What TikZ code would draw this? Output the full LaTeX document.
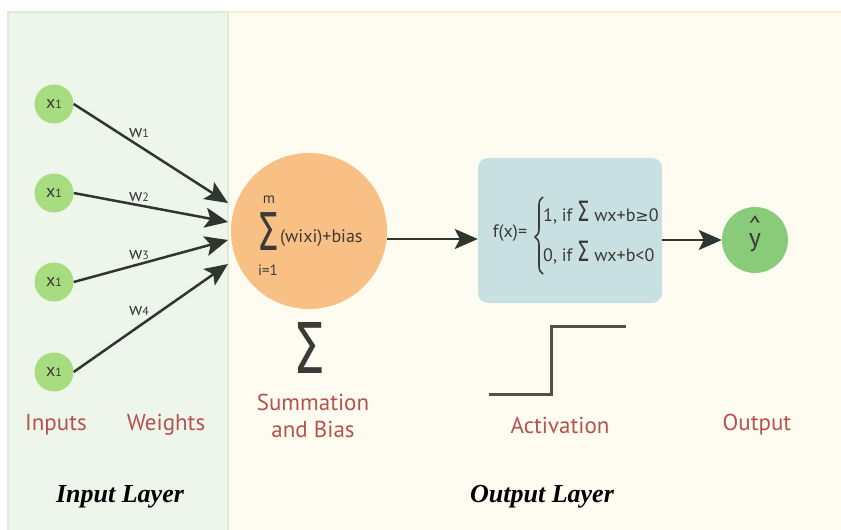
\documentclass[tikz,border=0pt]{standalone}
\usepackage{fontspec}
\setmainfont{PT Sans}
\newfontfamily\symfont{DejaVu Sans}
\newfontfamily\layerfont{Liberation Serif}
\usetikzlibrary{arrows.meta,decorations.pathreplacing}

\definecolor{inbg}{HTML}{EEF6EC}
\definecolor{inedge}{HTML}{DDEBD6}
\definecolor{outbg}{HTML}{FEFCF0}
\definecolor{outedge}{HTML}{FBEFCC}
\definecolor{ingreen}{HTML}{A8DC80}
\definecolor{outgreen}{HTML}{88CC7A}
\definecolor{sumorange}{HTML}{F8C085}
\definecolor{actblue}{HTML}{C8E0E2}
\definecolor{ink}{HTML}{2F3630}
\definecolor{txt}{HTML}{3A3A36}
\definecolor{cap}{HTML}{B5524E}
\definecolor{stepline}{HTML}{545048}

\tikzset{
  inp/.style={circle, fill=ingreen, minimum size=39pt, inner sep=0pt, text=txt,
    font=\fontsize{18}{18}\selectfont},
  wlab/.style={text=txt, font=\fontsize{18}{18}\selectfont, inner sep=0pt},
  conn/.style={draw=ink, line width=2.5pt,
    -{Stealth[length=23pt, width=20pt, inset=5pt]}},
  formula/.style={text=txt, inner sep=0pt, font=\fontsize{18}{18}\selectfont},
  caption/.style={text=cap, font=\fontsize{23}{27}\selectfont, align=center, inner sep=0pt},
  layer/.style={text=black, font=\layerfont\bfseries\itshape\fontsize{26}{26}\selectfont, inner sep=0pt},
}

\newcommand{\xone}{x{\fontsize{12}{12}\selectfont 1}}
\newcommand{\wsub}[1]{w{\fontsize{12}{12}\selectfont #1}}
\newcommand{\smallsig}{{\symfont\fontsize{28}{28}\selectfont\scalebox{0.7}[1]{Σ}}}
\newcommand{\hatwithy}{\ooalign{y\cr\hidewidth\raisebox{12pt}{\textasciicircum}\hidewidth\cr}}

\begin{document}
\begin{tikzpicture}[x=1pt, y=-1pt]
  \useasboundingbox (0,0) rectangle (841,530);
  \fill[white] (0,0) rectangle (841,530);

  % layer panels
  \filldraw[fill=outbg, draw=outedge, line width=2pt] (228,12) rectangle (845,534);
  \filldraw[fill=inbg, draw=inedge, line width=2pt] (8,12) rectangle (228,534);

  % inputs
  \node[inp] (x1) at (54,104) {\xone};
  \node[inp] (x2) at (54,193) {\xone};
  \node[inp] (x3) at (54,282) {\xone};
  \node[inp] (x4) at (54,372) {\xone};

  % summation unit
  \node[circle, fill=sumorange, minimum size=156pt, inner sep=0pt] (sum) at (309,231) {};
  \node[formula, font=\fontsize{15}{15}\selectfont] (m) at (269,200) {m};
  \node[text=txt, inner sep=0pt] (sig) at (268,232)
    {\symfont\fontsize{52}{52}\selectfont\scalebox{0.66}[1]{Σ}};
  \node[formula, font=\fontsize{15}{15}\selectfont] (lim) at (268,270) {i=1};
  \node[formula, anchor=west] (sumtxt) at (280,238) {(wixi)+bias};

  % arrow targets on the summation unit
  \coordinate (t1) at (228,203);
  \coordinate (t2) at (228,222);
  \coordinate (t3) at (228,240);
  \coordinate (t4) at (228,264);

  \draw[conn] (x1.east) -- (t1);
  \draw[conn] (x2.east) -- (t2);
  \draw[conn] (x3.east) -- (t3);
  \draw[conn] (x4.east) -- (t4);

  \node[wlab] (w1) at (139,133) {\wsub{1}};
  \node[wlab] (w2) at (139,197) {\wsub{2}};
  \node[wlab] (w3) at (139,255) {\wsub{3}};
  \node[wlab] (w4) at (139,311) {\wsub{4}};

  % activation box
  \node[fill=actblue, rounded corners=10pt, minimum width=184pt, minimum height=145pt,
        inner sep=0pt] (act) at (570,230.5) {};
  \node[formula] (fx) at (510,233) {f(x)=};
  \coordinate (bt) at (543,197);
  \coordinate (bb) at (543,274);
  \draw[txt, line width=1.6pt, decorate, decoration={brace, amplitude=8pt, aspect=0.48}] (bb) -- (bt);
  \node[formula, anchor=west] (c1) at (543,213) {1, if \smallsig{} wx+b{\symfont\fontsize{16}{16}\selectfont ≥}0};
  \node[formula, anchor=west] (c2) at (543,253) {0, if \smallsig{} wx+b<0};

  % output
  \node[circle, fill=outgreen, minimum size=66pt, inner sep=0pt, text=txt,
        font=\fontsize{26}{26}\selectfont] (yhat) at (755,240) {\hatwithy};

  \draw[conn] (sum.east |- 0,239) -- (act.west |- 0,239);
  \draw[conn] (act.east |- yhat.west) -- (yhat.west);

  % big sigma and step function
  \node[text=txt, inner sep=0pt] (bigsig) at (309,348)
    {\symfont\fontsize{70}{70}\selectfont\scalebox{0.72}[1]{Σ}};
  \draw[stepline, line width=3pt] (489,394) -- (551,394) -- (551,326) -- (626,326);

  % captions
  \node[caption] (cin) at (56,425) {Inputs};
  \node[caption] (cw) at (166,425) {Weights};
  \node[caption] (cs) at (313,416) {Summation\\and Bias};
  \node[caption] (ca) at (560,425) {Activation};
  \node[caption] (co) at (757,425) {Output};

  \node[layer] (lin) at (120,497) {Input Layer};
  \node[layer] (lout) at (542,497) {Output Layer};
\end{tikzpicture}
\end{document}
